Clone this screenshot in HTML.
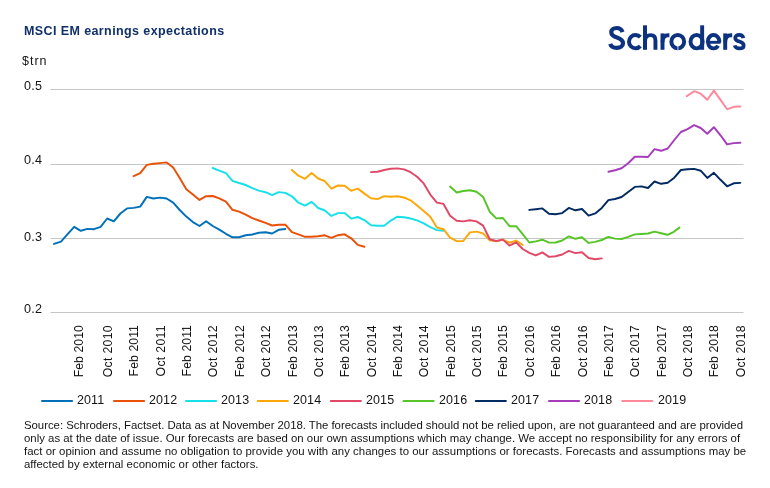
<!DOCTYPE html>
<html><head><meta charset="utf-8"><title>MSCI EM earnings expectations</title>
<style>
html,body{margin:0;padding:0;background:#fff;}
body{width:770px;height:488px;position:relative;overflow:hidden;font-family:"Liberation Sans",sans-serif;}
.t{position:absolute;white-space:nowrap;color:#141414;line-height:1;will-change:transform;}
#title{left:24.2px;top:25.3px;font-size:12.5px;font-weight:bold;color:#10306a;letter-spacing:0.4px;}
#unit{left:22.3px;top:54.5px;font-size:12.5px;letter-spacing:1.0px;}
.yl{font-size:12.6px;letter-spacing:0.2px;}
.xl{font-size:12.2px;letter-spacing:0.1px;transform-origin:0 100%;transform:rotate(-90deg);height:12px;line-height:12px;width:60px;text-align:right;top:373.2px;}
.lg{font-size:12.5px;letter-spacing:0.1px;}
.ft{font-size:11.4px;}
svg{position:absolute;left:0;top:0;}
</style></head><body>
<svg width="770" height="488" viewBox="0 0 770 488">
<line x1="50.5" x2="743.5" y1="89.5" y2="89.5" stroke="#c6c6c6" stroke-width="1"/>
<line x1="50.5" x2="743.5" y1="164.5" y2="164.5" stroke="#c6c6c6" stroke-width="1"/>
<line x1="50.5" x2="743.5" y1="238.5" y2="238.5" stroke="#c6c6c6" stroke-width="1"/>
<line x1="50.5" x2="743.5" y1="312.5" y2="312.5" stroke="#c6c6c6" stroke-width="1"/>
<polyline points="54.0,243.9 61.0,241.6 67.6,234.2 74.2,226.8 80.8,230.8 87.4,228.9 94.0,229.2 100.6,226.8 107.2,218.5 113.8,221.3 120.4,213.5 127.0,208.4 133.6,207.9 140.2,206.6 146.8,196.9 153.4,198.5 160.0,197.6 166.6,198.5 173.2,202.6 179.7,210.0 186.3,216.6 192.9,222.1 199.5,226.0 206.1,221.3 212.7,226.0 219.3,229.6 225.9,233.8 232.5,237.3 239.1,237.3 245.7,235.3 252.3,234.5 258.9,232.7 265.5,232.2 272.1,233.5 278.7,229.8 285.3,229.0" fill="none" stroke="#0071b9" stroke-width="1.95" stroke-linejoin="round" stroke-linecap="round"/>
<polyline points="133.6,176.2 140.2,173.2 146.8,164.9 153.4,163.7 160.0,163.1 166.6,162.4 173.2,167.5 179.7,178.0 186.3,189.3 192.9,194.4 199.5,199.9 206.1,196.2 212.7,196.0 219.3,198.4 225.9,201.7 232.5,209.8 239.1,211.6 245.7,214.6 252.3,218.2 258.9,220.5 265.5,222.9 272.1,225.5 278.7,224.7 285.3,224.6 291.9,232.1 298.4,234.4 305.0,236.8 311.6,236.8 318.2,236.3 324.8,235.3 331.4,237.8 338.0,235.2 344.6,234.3 351.2,238.3 357.8,244.9 364.4,246.7" fill="none" stroke="#ea5006" stroke-width="1.95" stroke-linejoin="round" stroke-linecap="round"/>
<polyline points="212.7,168.0 219.3,170.7 225.9,173.2 232.5,180.8 239.1,183.0 245.7,185.0 252.3,188.1 258.9,190.6 265.5,192.2 272.1,195.1 278.7,192.1 285.3,192.9 291.9,196.3 298.4,202.7 305.0,205.6 311.6,201.9 318.2,208.0 324.8,210.5 331.4,215.9 338.0,213.1 344.6,213.1 351.2,218.6 357.8,217.0 364.4,220.1 371.0,225.3 377.6,225.7 384.2,225.7 390.8,220.6 397.4,216.7 404.0,217.3 410.6,218.5 417.1,220.4 423.7,223.4 430.3,227.1 436.9,230.1 443.5,230.7" fill="none" stroke="#17e0ea" stroke-width="1.95" stroke-linejoin="round" stroke-linecap="round"/>
<polyline points="291.9,169.9 298.4,175.7 305.0,178.8 311.6,173.1 318.2,178.5 324.8,181.2 331.4,188.6 338.0,185.5 344.6,185.8 351.2,190.8 357.8,188.6 364.4,193.6 371.0,198.3 377.6,199.1 384.2,196.2 390.8,196.8 397.4,196.3 404.0,197.5 410.6,200.3 417.1,205.6 423.7,211.1 430.3,216.8 436.9,227.5 443.5,229.2 450.1,237.7 456.7,241.2 463.3,241.0 469.9,232.4 476.5,231.6 483.1,233.4 489.7,240.4 496.3,241.3 502.9,239.6 509.5,242.7 516.1,240.6 522.7,245.0" fill="none" stroke="#fba709" stroke-width="1.95" stroke-linejoin="round" stroke-linecap="round"/>
<polyline points="371.0,172.1 377.6,171.8 384.2,170.0 390.8,168.8 397.4,168.4 404.0,169.4 410.6,172.2 417.1,176.7 423.7,183.4 430.3,194.6 436.9,202.6 443.5,203.9 450.1,215.7 456.7,220.8 463.3,221.4 469.9,220.2 476.5,221.4 483.1,225.6 489.7,239.2 496.3,241.0 502.9,239.6 509.5,245.6 516.1,242.3 522.7,249.0 529.3,252.9 535.8,255.4 542.4,252.4 549.0,256.9 555.6,256.2 562.2,254.5 568.8,250.9 575.4,253.1 582.0,252.3 588.6,258.0 595.2,259.3 601.8,258.4" fill="none" stroke="#e14866" stroke-width="1.95" stroke-linejoin="round" stroke-linecap="round"/>
<polyline points="450.1,186.6 456.7,192.5 463.3,191.0 469.9,190.2 476.5,191.7 483.1,196.9 489.7,211.7 496.3,218.4 502.9,218.0 509.5,226.2 516.1,226.2 522.7,234.2 529.3,242.5 535.8,241.4 542.4,239.7 549.0,242.6 555.6,242.5 562.2,240.5 568.8,236.4 575.4,238.8 582.0,237.3 588.6,242.9 595.2,241.9 601.8,240.0 608.4,236.9 615.0,238.6 621.6,239.0 628.2,236.9 634.8,234.4 641.4,234.0 648.0,233.5 654.5,231.6 661.1,233.2 667.7,234.8 673.8,231.8 679.4,227.6" fill="none" stroke="#57c428" stroke-width="1.95" stroke-linejoin="round" stroke-linecap="round"/>
<polyline points="529.3,209.9 535.8,209.2 542.4,208.4 549.0,213.8 555.6,214.2 562.2,213.1 568.8,207.9 575.4,210.3 582.0,209.0 588.6,215.6 595.2,213.4 601.8,207.9 608.4,200.1 615.0,199.0 621.6,197.0 628.2,192.0 634.8,186.9 641.4,186.4 648.0,188.0 654.5,181.5 661.1,183.8 667.7,182.8 674.3,177.7 680.9,170.0 687.5,169.2 694.1,168.9 700.7,170.7 707.3,177.9 713.9,172.8 720.5,179.8 727.1,186.3 733.7,183.3 740.3,182.9" fill="none" stroke="#012a63" stroke-width="1.95" stroke-linejoin="round" stroke-linecap="round"/>
<polyline points="608.4,171.8 615.0,170.2 621.6,168.2 628.2,163.2 634.8,156.8 641.4,156.8 648.0,157.0 654.5,149.1 661.1,150.8 667.7,148.5 674.3,140.0 680.9,132.0 687.5,129.1 694.1,125.2 700.7,128.0 707.3,133.8 713.9,127.2 720.5,135.3 727.1,144.4 733.7,143.1 740.3,142.7" fill="none" stroke="#a53dba" stroke-width="1.95" stroke-linejoin="round" stroke-linecap="round"/>
<polyline points="686.8,96.1 694.1,91.2 700.7,93.7 707.3,99.8 713.9,90.6 720.5,99.9 727.1,109.3 733.7,106.8 740.3,106.5" fill="none" stroke="#ff889a" stroke-width="1.95" stroke-linejoin="round" stroke-linecap="round"/>
<line x1="42.0" x2="72.1" y1="401" y2="401" stroke="#0071b9" stroke-width="2" stroke-linecap="round"/>
<line x1="114.0" x2="144.1" y1="401" y2="401" stroke="#ea5006" stroke-width="2" stroke-linecap="round"/>
<line x1="186.0" x2="216.1" y1="401" y2="401" stroke="#17e0ea" stroke-width="2" stroke-linecap="round"/>
<line x1="257.8" x2="287.9" y1="401" y2="401" stroke="#fba709" stroke-width="2" stroke-linecap="round"/>
<line x1="330.8" x2="360.9" y1="401" y2="401" stroke="#e14866" stroke-width="2" stroke-linecap="round"/>
<line x1="403.5" x2="433.6" y1="401" y2="401" stroke="#57c428" stroke-width="2" stroke-linecap="round"/>
<line x1="475.8" x2="505.9" y1="401" y2="401" stroke="#012a63" stroke-width="2" stroke-linecap="round"/>
<line x1="549.0" x2="579.1" y1="401" y2="401" stroke="#a53dba" stroke-width="2" stroke-linecap="round"/>
<line x1="622.3" x2="652.4" y1="401" y2="401" stroke="#ff889a" stroke-width="2" stroke-linecap="round"/>
<g fill="none" stroke="#0d3380" stroke-width="3.95" stroke-linecap="butt" stroke-linejoin="round">
<path d="M622.5 32.1C621.8 29.6 619.7 28 616.6 28C613.4 28 611.3 29.7 611.3 32.3C611.3 35 613.1 36.3 616.9 37.5C620.7 38.7 623 40.3 623 43.3C623 46.1 620.5 47.9 616.7 47.9C613.4 47.9 611 46.4 610.2 43.9" stroke-width="4.2"/>
<path d="M640.33 37.17A6.5 6.7 0 1 0 640.33 46.13"/>
<path d="M645 25.3V49.8"/>
<path d="M655.45 49.8V40.4C655.45 37.1 653.6 35.1 650.6 35.1C647.5 35.1 645 37.4 645 41.2"/>
<path d="M662.5 33.4V49.8"/>
<path d="M662.5 42.2C662.5 37.6 664.6 35.25 668.2 35.25H669.4" stroke-width="3.8"/>
<ellipse cx="677.75" cy="41.65" rx="6.4" ry="6.7"/>
<ellipse cx="696.6" cy="41.65" rx="6.05" ry="6.7"/>
<path d="M702.15 25.3V49.8"/>
<path d="M719.3 42.3A5.75 6.7 0 1 0 718.13 45.77"/>
<path d="M708 42.3H720.6" stroke-width="2.9"/>
<path d="M725.2 33.4V49.8"/>
<path d="M725.2 42.2C725.2 37.6 727.3 35.25 730.9 35.25H732.2" stroke-width="3.8"/>
<path d="M743.4 38.1C743 36.1 741.5 34.85 739.3 34.85C736.9 34.85 735.2 36.1 735.2 38C735.2 40 736.7 40.8 739.4 41.6C742.1 42.4 743.7 43.3 743.7 45.4C743.7 47.3 741.9 48.45 739.4 48.45C736.9 48.45 735.2 47.3 734.7 45.4" stroke-width="3.7"/>
<path d="M677.95 46V50.6" stroke="#fff" stroke-width="0.9" opacity="0.9"/>
</g>
</svg>
<div class="t" id="title">MSCI EM earnings expectations</div>
<div class="t" id="unit">$trn</div>
<div class="t yl" style="left:23.9px;top:79.3px;transform:translateY(0.5px)">0.5</div>
<div class="t yl" style="left:23.9px;top:154.3px">0.4</div>
<div class="t yl" style="left:23.9px;top:230.3px;transform:translateY(0.5px)">0.3</div>
<div class="t yl" style="left:23.9px;top:302.3px;transform:translateY(0.5px)">0.2</div>
<div class="t xl" style="left:84.95px;letter-spacing:0.1px">Feb 2010</div>
<div class="t xl" style="left:113.91px;letter-spacing:0.36px">Oct 2010</div>
<div class="t xl" style="left:140.28px;letter-spacing:0.1px">Feb 2011</div>
<div class="t xl" style="left:166.65px;letter-spacing:0.36px">Oct 2011</div>
<div class="t xl" style="left:193.02px;letter-spacing:0.1px">Feb 2011</div>
<div class="t xl" style="left:219.39px;letter-spacing:0.36px">Oct 2012</div>
<div class="t xl" style="left:245.76px;letter-spacing:0.1px">Feb 2012</div>
<div class="t xl" style="left:272.13px;letter-spacing:0.36px">Oct 2012</div>
<div class="t xl" style="left:298.50px;letter-spacing:0.1px">Feb 2013</div>
<div class="t xl" style="left:324.87px;letter-spacing:0.36px">Oct 2013</div>
<div class="t xl" style="left:351.24px;letter-spacing:0.1px">Feb 2013</div>
<div class="t xl" style="left:377.61px;letter-spacing:0.36px">Oct 2014</div>
<div class="t xl" style="left:403.98px;letter-spacing:0.1px">Feb 2014</div>
<div class="t xl" style="left:430.35px;letter-spacing:0.36px">Oct 2014</div>
<div class="t xl" style="left:456.72px;letter-spacing:0.1px">Feb 2015</div>
<div class="t xl" style="left:483.09px;letter-spacing:0.36px">Oct 2015</div>
<div class="t xl" style="left:509.46px;letter-spacing:0.1px">Feb 2015</div>
<div class="t xl" style="left:535.83px;letter-spacing:0.36px">Oct 2016</div>
<div class="t xl" style="left:562.20px;letter-spacing:0.1px">Feb 2016</div>
<div class="t xl" style="left:588.57px;letter-spacing:0.36px">Oct 2016</div>
<div class="t xl" style="left:614.94px;letter-spacing:0.1px">Feb 2017</div>
<div class="t xl" style="left:641.31px;letter-spacing:0.36px">Oct 2017</div>
<div class="t xl" style="left:667.68px;letter-spacing:0.1px">Feb 2017</div>
<div class="t xl" style="left:694.05px;letter-spacing:0.36px">Oct 2018</div>
<div class="t xl" style="left:720.42px;letter-spacing:0.1px">Feb 2018</div>
<div class="t xl" style="left:746.79px;letter-spacing:0.36px">Oct 2018</div>
<div class="t lg" style="left:77.4px;top:394.4px">2011</div>
<div class="t lg" style="left:149.4px;top:394.4px">2012</div>
<div class="t lg" style="left:221.4px;top:394.4px">2013</div>
<div class="t lg" style="left:293.2px;top:394.4px">2014</div>
<div class="t lg" style="left:366.2px;top:394.4px">2015</div>
<div class="t lg" style="left:438.9px;top:394.4px">2016</div>
<div class="t lg" style="left:511.2px;top:394.4px">2017</div>
<div class="t lg" style="left:584.4px;top:394.4px">2018</div>
<div class="t lg" style="left:657.7px;top:394.4px">2019</div>
<div class="t ft" id="f0" style="left:23.7px;top:419.5px;letter-spacing:-0.033px">Source: Schroders, Factset. Data as at November 2018. The forecasts included should not be relied upon, are not guaranteed and are provided</div>
<div class="t ft" id="f1" style="left:23.7px;top:432.6px;letter-spacing:-0.003px">only as at the date of issue. Our forecasts are based on our own assumptions which may change. We accept no responsibility for any errors of</div>
<div class="t ft" id="f2" style="left:23.7px;top:445.7px;letter-spacing:0.026px">fact or opinion and assume no obligation to provide you with any changes to our assumptions or forecasts. Forecasts and assumptions may be</div>
<div class="t ft" id="f3" style="left:23.7px;top:458.7px;letter-spacing:0.01px">affected by external economic or other factors.</div>

</body></html>
